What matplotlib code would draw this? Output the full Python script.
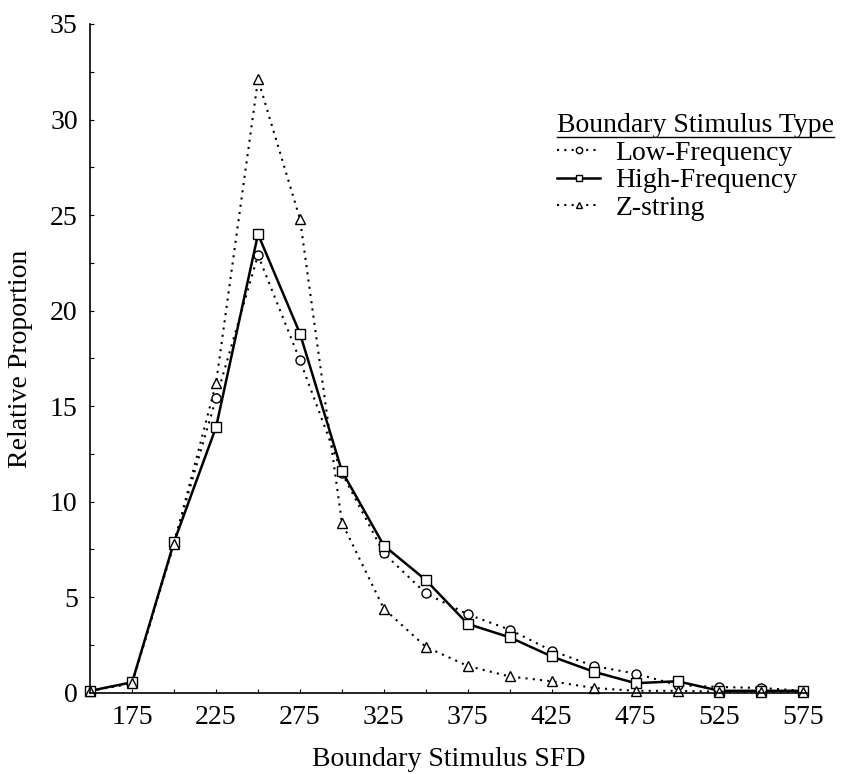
import matplotlib
matplotlib.use("Agg")
import matplotlib.pyplot as plt
from matplotlib.lines import Line2D
from matplotlib.ticker import MultipleLocator

# boundary stimulus SFD (ms) and relative proportions
sfd = [150, 175, 200, 225, 250, 275, 300, 325, 350, 375, 400, 425, 450, 475, 500, 525, 550, 575]
low_freq = [0.1, 0.5, 7.9, 15.4, 22.9, 17.4, 11.5, 7.3, 5.2, 4.1, 3.3, 2.2, 1.4, 1.0, 0.4, 0.3, 0.25, 0.1]
high_freq = [0.1, 0.55, 7.9, 13.9, 24.0, 18.8, 11.6, 7.7, 5.9, 3.6, 2.9, 1.9, 1.1, 0.5, 0.6, 0.1, 0.1, 0.1]
z_string = [0.1, 0.5, 7.8, 16.2, 32.1, 24.8, 8.9, 4.4, 2.4, 1.4, 0.85, 0.6, 0.25, 0.1, 0.1, 0.05, 0.05, 0.05]

x_ticks = [175, 225, 275, 325, 375, 425, 475, 525, 575]
y_ticks = [0, 5, 10, 15, 20, 25, 30, 35]

plt.rcParams['font.family'] = ['Liberation Serif', 'DejaVu Serif']
plt.rcParams['font.size'] = 20

fig = plt.figure(figsize=(8.43, 7.74), dpi=100)
ax = fig.add_axes([0.107, 0.105, 0.85, 0.864])

dots = (0, (1, 2.5))
ax.plot(sfd, low_freq, color='black', lw=1.5, ls=dots, marker='o', ms=6.5,
        mfc='white', mec='black', mew=1.0, clip_on=False, label='Low-Frequency')
ax.plot(sfd, high_freq, color='black', lw=1.8, ls='-', marker='s', ms=7,
        mfc='white', mec='black', mew=1.0, clip_on=False, label='High-Frequency')
ax.plot(sfd, z_string, color='black', lw=1.5, ls=dots, marker='^', ms=6.5,
        mfc='white', mec='black', mew=1.0, clip_on=False, label='Z-string')

ax.set_xlim(150, 577)
ax.set_ylim(0, 35)
ax.set_xticks(x_ticks)
ax.set_yticks(y_ticks)
ax.xaxis.set_minor_locator(MultipleLocator(25))
ax.yaxis.set_minor_locator(MultipleLocator(2.5))
ax.tick_params(which='both', direction='in', length=3, width=0.8, pad=9)
ax.spines['top'].set_visible(False)
ax.spines['right'].set_visible(False)
ax.spines['left'].set_linewidth(1.2)
ax.spines['bottom'].set_linewidth(1.2)

ax.set_xlabel('Boundary Stimulus SFD', labelpad=12)
ax.set_ylabel('Relative Proportion', labelpad=12)

leg = ax.legend(loc='upper left', bbox_to_anchor=(557 / 843, 1 - 113 / 774),
                bbox_transform=fig.transFigure, frameon=False, title='Boundary Stimulus Type',
                handlelength=1.55, handletextpad=0.55, labelspacing=0.08,
                borderpad=0, borderaxespad=0, markerscale=0.7, alignment='left')
leg.get_title().set_fontsize(20)

# underline the legend title
fig.canvas.draw()
bb = leg.get_title().get_window_extent()
fig.add_artist(Line2D([bb.x0, bb.x1], [bb.y0 + 1, bb.y0 + 1], transform=None,
                      color='black', lw=1.0))

fig.savefig('out.png', dpi=100)
